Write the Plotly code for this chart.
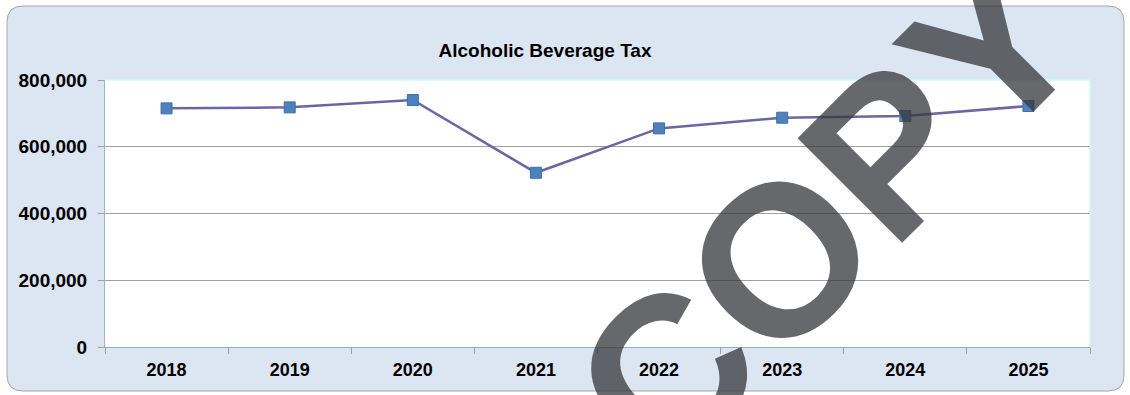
import plotly.graph_objects as go

years = ["2018", "2019", "2020", "2021", "2022", "2023", "2024", "2025"]
tax = [715000, 718000, 740000, 522000, 655000, 687000, 692000, 722000]
y_ticks = [0, 200000, 400000, 600000, 800000]
y_tick_labels = ["0", "200,000", "400,000", "600,000", "800,000"]

W, H = 1130, 395
ML, MR, MT, MB = 105, 40, 80, 48
PW, PH = W - ML - MR, H - MT - MB

def px(x):
    return (x - ML) / PW

def py(y):
    return (H - MB - y) / PH

def rounded_rect(x0, y0, x1, y1, r):
    X0, X1 = px(x0), px(x1)
    Y0, Y1 = py(y0), py(y1)
    rx, ry = r / PW, r / PH
    p = (f"M{X0 + rx},{Y0} L{X1 - rx},{Y0} Q{X1},{Y0} {X1},{Y0 - ry} "
         f"L{X1},{Y1 + ry} Q{X1},{Y1} {X1 - rx},{Y1} "
         f"L{X0 + rx},{Y1} Q{X0},{Y1} {X0},{Y1 + ry} "
         f"L{X0},{Y0 - ry} Q{X0},{Y0} {X0 + rx},{Y0} Z")
    return p

fig = go.Figure()
fig.add_trace(go.Scatter(
    x=years, y=tax, mode="lines+markers",
    line=dict(color="#6a66a3", width=2.5),
    marker=dict(symbol="square", size=11, color="#4f81bd",
                line=dict(color="#3f6fa8", width=1)),
    hoverinfo="skip", showlegend=False,
))

font = "Liberation Sans, Arial, sans-serif"
fig.update_layout(
    width=W, height=H,
    margin=dict(l=ML, r=MR, t=MT, b=MB),
    paper_bgcolor="white",
    plot_bgcolor="white",
    title=dict(text="<b>Alcoholic Beverage Tax</b>", x=545 / W, xanchor="center",
               y=1 - 50 / H, yanchor="middle",
               font=dict(family=font, size=19, color="black")),
    xaxis=dict(type="category", tickson="boundaries", ticks="outside", ticklen=6,
               tickcolor="#a0a0a0", showgrid=False, showline=True,
               linecolor="#8fb4b4", linewidth=1, ticklabelstandoff=6,
               tickfont=dict(family=font, size=18, color="black"),
               tickprefix="<b>", ticksuffix="</b>", range=[-0.5, 7.5]),
    yaxis=dict(range=[0, 800000], tickvals=y_ticks, ticktext=["<b>%s</b>" % t for t in y_tick_labels],
               ticks="outside", ticklen=6, tickcolor="#a0a0a0", ticklabelstandoff=7,
               showgrid=True, gridcolor="#a0a0a0", gridwidth=1,
               showline=True, linecolor="#a0b4b8", linewidth=1, zeroline=False,
               tickfont=dict(family=font, size=19, color="black")),
    shapes=[
        dict(type="path", xref="paper", yref="paper", path=rounded_rect(7, 6, 1124, 391, 16),
             fillcolor="#dce6f2", line=dict(color="#a6a6a6", width=1), layer="below"),
        dict(type="rect", xref="paper", yref="paper", x0=0, x1=1, y0=0, y1=1,
             fillcolor="white", line=dict(width=0), layer="below"),
        dict(type="line", xref="paper", yref="paper", x0=0, x1=1, y0=1, y1=1,
             line=dict(color="#ccfafa", width=1.5), layer="above"),
        dict(type="line", xref="paper", yref="paper", x0=1, x1=1, y0=0, y1=1,
             line=dict(color="#ccfafa", width=1.5), layer="above"),
    ],
    annotations=[
        dict(text="<b>COPY</b>", xref="paper", yref="paper", x=px(826), y=py(213),
             xanchor="center", yanchor="middle", textangle=-45, showarrow=False,
             font=dict(family=font, size=215, color="rgba(55,57,60,0.76)")),
    ],
)

fig.write_html("out.html")
